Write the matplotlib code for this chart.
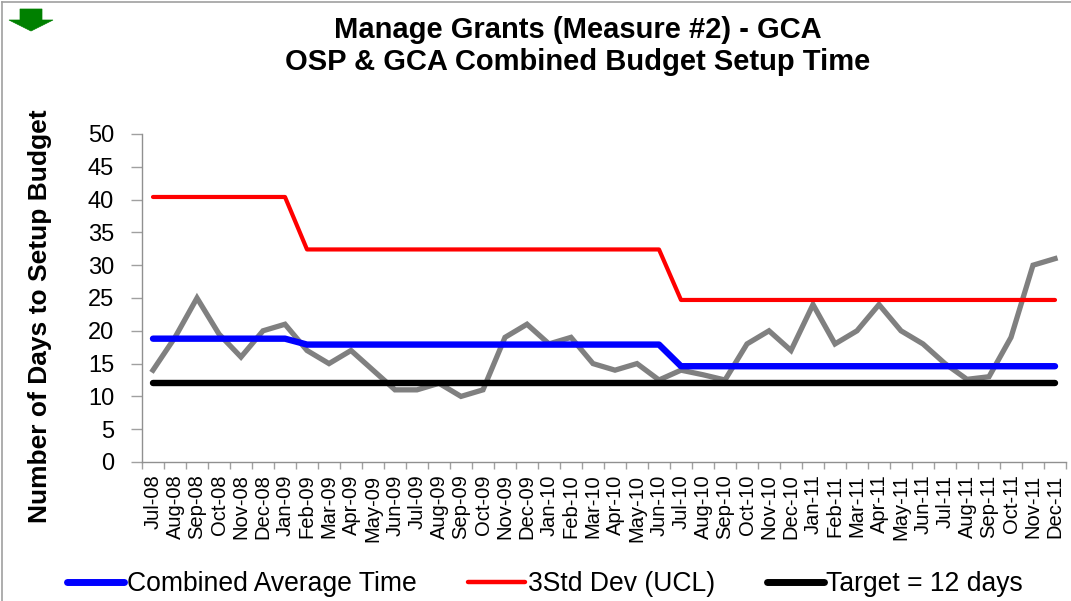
"""
Manage Grants (Measure #2) - GCA: combined budget setup time control chart.
"""

import matplotlib
matplotlib.use("Agg")
import matplotlib.pyplot as plt
from matplotlib.patches import Polygon
from matplotlib.lines import Line2D

plt.rcParams["font.family"] = ["Liberation Sans", "DejaVu Sans"]

months = [
    "Jul-08", "Aug-08", "Sep-08", "Oct-08", "Nov-08", "Dec-08",
    "Jan-09", "Feb-09", "Mar-09", "Apr-09", "May-09", "Jun-09",
    "Jul-09", "Aug-09", "Sep-09", "Oct-09", "Nov-09", "Dec-09",
    "Jan-10", "Feb-10", "Mar-10", "Apr-10", "May-10", "Jun-10",
    "Jul-10", "Aug-10", "Sep-10", "Oct-10", "Nov-10", "Dec-10",
    "Jan-11", "Feb-11", "Mar-11", "Apr-11", "May-11", "Jun-11",
    "Jul-11", "Aug-11", "Sep-11", "Oct-11", "Nov-11", "Dec-11",
]

# monthly setup time (grey line)
setup_days = [
    14, 19, 25, 19.5, 16, 20,
    21, 17, 15, 17, 14, 11,
    11, 12, 10, 11, 19, 21,
    18, 19, 15, 14, 15, 12.5,
    14, 13.3, 12.5, 18, 20, 17,
    24, 18, 20, 24, 20, 18,
    15, 12.6, 13, 19, 30, 31,
]

# period averages and limits (7 / 17 / 18 months)
period_len = [7, 17, 18]
period_avg = [18.8, 17.9, 14.6]
period_ucl = [40.4, 32.4, 24.7]
target = 12

avg_line = [v for v, n in zip(period_avg, period_len) for _ in range(n)]
ucl_line = [v for v, n in zip(period_ucl, period_len) for _ in range(n)]
target_line = [target] * len(months)

fig = plt.figure(figsize=(10.71, 6.01), dpi=100)
ax = fig.add_axes([142 / 1071, 139 / 601, 924 / 1071, 328 / 601])

x = list(range(len(months)))
ax.plot(x, setup_days, color="#808080", lw=3.8, solid_joinstyle="miter", zorder=2)
ax.plot(x, avg_line, color="#0000FF", lw=4.6, solid_capstyle="round", zorder=3,
        label="Combined Average Time")
ax.plot(x, ucl_line, color="#FF0000", lw=3.0, solid_capstyle="round", zorder=3,
        label="3Std Dev (UCL)")
ax.plot(x, target_line, color="#000000", lw=4.6, solid_capstyle="round", zorder=4,
        label="Target = 12 days")

ax.set_xlim(-0.5, len(months) - 0.5)
ax.set_ylim(0, 50)
ax.set_yticks(range(0, 51, 5))
ax.set_xticks(x)
ax.set_xticklabels(months, rotation=90, fontsize=14.5)
ax.set_xticks([i - 0.5 for i in range(len(months) + 1)], minor=True)
ax.tick_params(axis="x", which="major", length=0, pad=9)
ax.tick_params(axis="x", which="minor", length=5, color="#A0A0A0", width=1)
ax.tick_params(axis="y", length=8, color="#A0A0A0", width=1, labelsize=17, pad=12)

for side in ["top", "right"]:
    ax.spines[side].set_visible(False)
for side in ["left", "bottom"]:
    ax.spines[side].set_color("#909090")
    ax.spines[side].set_linewidth(1)

fig.text(40 / 1071, 1 - 316 / 601, "Number of Days to Setup Budget", rotation=90,
         ha="center", va="center", fontsize=19, fontweight="bold")

fig.text(578 / 1071, 1 - 30 / 601, "Manage Grants (Measure #2) - GCA", ha="center",
         va="center", fontsize=21, fontweight="bold")
fig.text(578 / 1071, 1 - 62 / 601, "OSP & GCA Combined Budget Setup Time", ha="center",
         va="center", fontsize=21, fontweight="bold")

handles = [
    Line2D([], [], color="#0000FF", lw=5, solid_capstyle="round"),
    Line2D([], [], color="#FF0000", lw=3.2, solid_capstyle="round"),
    Line2D([], [], color="#000000", lw=5, solid_capstyle="round"),
]
labels = ["Combined Average Time", "3Std Dev (UCL)", "Target = 12 days"]
fig.legend(handles, labels, loc="center", bbox_to_anchor=(545 / 1071, 1 - 584 / 601),
           ncol=3, frameon=False, fontsize=19.1, handlelength=2.15,
           handletextpad=0.08, columnspacing=1.96, borderpad=0)

# chart-area border (left and top edges visible)
fig.add_artist(Line2D([2 / 1071, 2 / 1071], [0, 1 - 2 / 601], color="#A0A0A0", lw=1.2))
fig.add_artist(Line2D([2 / 1071, 1], [1 - 2 / 601, 1 - 2 / 601], color="#A0A0A0", lw=1.2))

# green down arrow in the corner
W, H = 1071, 601
arrow_px = [(20, 9), (42, 9), (42, 20), (53, 20), (31, 31), (9, 20), (20, 20)]
fig.add_artist(Polygon([(px / W, 1 - py / H) for px, py in arrow_px], closed=True,
                       facecolor="#008000", edgecolor="#008000", lw=0.5,
                       transform=fig.transFigure))

fig.savefig("out.png", dpi=100)
